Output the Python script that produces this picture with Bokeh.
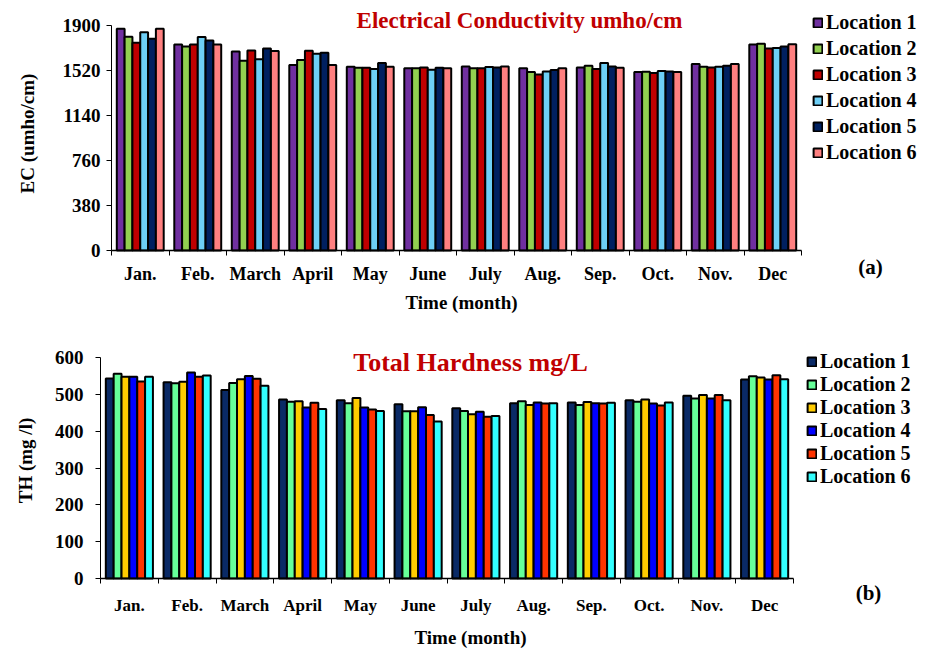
import math
from bokeh.plotting import figure
from bokeh.layouts import column
from bokeh.models import FixedTicker, Label, Legend, LegendItem, Range1d, LinearAxis
from bokeh.embed import file_html
from bokeh.resources import INLINE

months = ["Jan.", "Feb.", "March", "April", "May", "June", "July", "Aug.", "Sep.", "Oct.", "Nov.", "Dec"]
locations = ["Location 1", "Location 2", "Location 3", "Location 4", "Location 5", "Location 6"]

ec_loc1 = [1872, 1740, 1681, 1566, 1552, 1538, 1554, 1540, 1546, 1507, 1574, 1739]
ec_loc2 = [1805, 1723, 1602, 1608, 1543, 1540, 1540, 1507, 1560, 1510, 1552, 1745]
ec_loc3 = [1754, 1740, 1689, 1687, 1543, 1546, 1540, 1487, 1532, 1498, 1546, 1706]
ec_loc4 = [1844, 1802, 1614, 1661, 1532, 1526, 1549, 1512, 1583, 1515, 1552, 1711]
ec_loc5 = [1788, 1774, 1706, 1670, 1583, 1543, 1546, 1524, 1554, 1512, 1560, 1722]
ec_loc6 = [1872, 1740, 1684, 1566, 1552, 1540, 1554, 1540, 1543, 1507, 1574, 1742]

th_loc1 = [543, 533, 512, 486, 484, 473, 462, 476, 478, 484, 496, 540]
th_loc2 = [556, 530, 531, 480, 476, 454, 455, 481, 471, 480, 489, 549]
th_loc3 = [548, 534, 541, 481, 490, 454, 446, 471, 479, 486, 498, 546]
th_loc4 = [548, 559, 550, 464, 464, 465, 453, 478, 476, 475, 489, 540]
th_loc5 = [535, 548, 542, 477, 459, 444, 439, 475, 475, 470, 498, 552]
th_loc6 = [548, 551, 523, 460, 455, 426, 441, 476, 477, 478, 484, 541]

ec_ticks = [0, 380, 760, 1140, 1520, 1900]
th_ticks = [0, 100, 200, 300, 400, 500, 600]

ec_colors = ["#7030A0", "#92D050", "#C00000", "#6DCFF6", "#002060", "#FF8080"]
th_colors = ["#0A2A66", "#66FF99", "#FFCC00", "#0000FF", "#FF3300", "#33FFFF"]

FONT = "Liberation Serif"
BAR_W = 0.136
FIG_W = 926


def make_panel(series, colors, yticks, ymax, ylabel, title, tag, c):
    H = c["h"]
    top = c["top"]                       # page y of the figure's top edge
    x0, x12 = c["x_span"]               # page x of month 0 and month 12 boundaries
    y0, ymx = c["y_span"]               # page y of value 0 and of ymax
    ppx = (x12 - x0) / 12.0
    ppy = (y0 - ymx) / ymax
    x_range = Range1d(-x0 / ppx, (FIG_W - x0) / ppx)
    y_range = Range1d(-(top + H - y0) / ppy, (y0 - top) / ppy)

    p = figure(width=FIG_W, height=H, output_backend="svg", toolbar_location=None,
               x_range=x_range, y_range=y_range,
               x_axis_location=None, y_axis_location=None,
               min_border_left=0, min_border_right=0, min_border_top=0, min_border_bottom=0)
    p.xgrid.visible = False
    p.ygrid.visible = False
    p.outline_line_color = None
    p.background_fill_color = "white"
    p.border_fill_color = "white"

    def sx(px):
        return px

    def sy(py):
        return top + H - py

    renderers = []
    for k, (vals, col) in enumerate(zip(series, colors)):
        xs = [i + 0.5 + (k - 2.5) * BAR_W for i in range(len(months))]
        r = p.vbar(x=xs, top=vals, width=BAR_W, bottom=0, fill_color=col,
                   line_color="black", line_width=2)
        renderers.append(r)

    xa = LinearAxis(fixed_location=0, bounds=(0, 12))
    xa.ticker = FixedTicker(ticks=[i + 0.5 for i in range(12)], minor_ticks=list(range(13)))
    xa.major_label_overrides = {i + 0.5: m for i, m in enumerate(months)}
    xa.major_tick_out = 0
    xa.major_tick_in = 0
    xa.minor_tick_out = 5
    xa.minor_tick_in = 0
    xa.minor_tick_line_color = "black"
    xa.axis_line_color = "black"
    xa.axis_line_width = 1.5
    xa.major_label_text_font = FONT
    xa.major_label_text_font_style = "bold"
    xa.major_label_text_font_size = c["xtick_fs"]
    xa.major_label_text_color = "black"
    xa.major_label_standoff = c["xtick_std"]
    p.add_layout(xa, "below")

    ya = LinearAxis(fixed_location=0, bounds=(0, ymax))
    ya.ticker = FixedTicker(ticks=yticks, minor_ticks=[])
    ya.major_tick_out = 5
    ya.major_tick_in = 0
    ya.axis_line_color = "black"
    ya.major_tick_line_color = "black"
    ya.major_label_text_font = FONT
    ya.major_label_text_font_style = "bold"
    ya.major_label_text_font_size = c["ytick_fs"]
    ya.major_label_text_color = "black"
    ya.major_label_standoff = c["ytick_std"]
    p.add_layout(ya, "left")

    def add_text(text, pos, size, color="black", angle=0.0):
        p.add_layout(Label(x=sx(pos[0]), y=sy(pos[1]), x_units="screen", y_units="screen",
                           text=text, text_font=FONT, text_font_style="bold",
                           text_font_size=size, text_color=color, angle=angle,
                           text_align="center", text_baseline="middle"))

    add_text(title, c["title_px"], c["title_fs"], color="#C00000")
    add_text("Time (month)", c["xlab_px"], "19px")
    add_text(ylabel, c["ylab_px"], "19px", angle=math.pi / 2)
    add_text(tag, c["tag_px"], "21px")

    lx, ltop = c["legend_px"]
    n = len(locations)
    lh, sp = c["leg_row"], c["leg_sp"]
    leg_h = n * lh + (n - 1) * sp
    legend = Legend(items=[LegendItem(label=lab, renderers=[r]) for lab, r in zip(locations, renderers)],
                    location=(sx(lx), sy(ltop + leg_h)), orientation="vertical",
                    label_text_font=FONT, label_text_font_style="bold",
                    label_text_font_size=c["leg_fs"],
                    label_text_color="black", glyph_width=11, glyph_height=11, label_height=lh,
                    label_standoff=3, spacing=sp, padding=0, margin=0,
                    border_line_color=None, background_fill_alpha=0)
    p.add_layout(legend)
    return p


cfg1 = dict(h=330, top=0, x_span=(111, 801), y_span=(250, 25),
            xtick_fs="18px", ytick_fs="19px", xtick_std=8, ytick_std=6,
            title_px=(519, 20), title_fs="23px", xlab_px=(461, 302), ylab_px=(27, 133),
            tag_px=(870, 266), legend_px=(812, 11), leg_row=23, leg_sp=3, leg_fs="20px")

cfg2 = dict(h=318, top=330, x_span=(100, 793), y_span=(578, 357),
            xtick_fs="17px", ytick_fs="19px", xtick_std=12, ytick_std=12,
            title_px=(470, 362), title_fs="26px", xlab_px=(470, 637), ylab_px=(25, 460),
            tag_px=(868, 592), legend_px=(806, 350), leg_row=23, leg_sp=0, leg_fs="20px")

p1 = make_panel([ec_loc1, ec_loc2, ec_loc3, ec_loc4, ec_loc5, ec_loc6], ec_colors, ec_ticks, 1900,
                "EC (umho/cm)", "Electrical Conductivity umho/cm", "(a)", cfg1)
p2 = make_panel([th_loc1, th_loc2, th_loc3, th_loc4, th_loc5, th_loc6], th_colors, th_ticks, 600,
                "TH (mg /l)", "Total Hardness mg/L", "(b)", cfg2)

layout = column(p1, p2)
open("out.html", "w").write(file_html(layout, INLINE))
